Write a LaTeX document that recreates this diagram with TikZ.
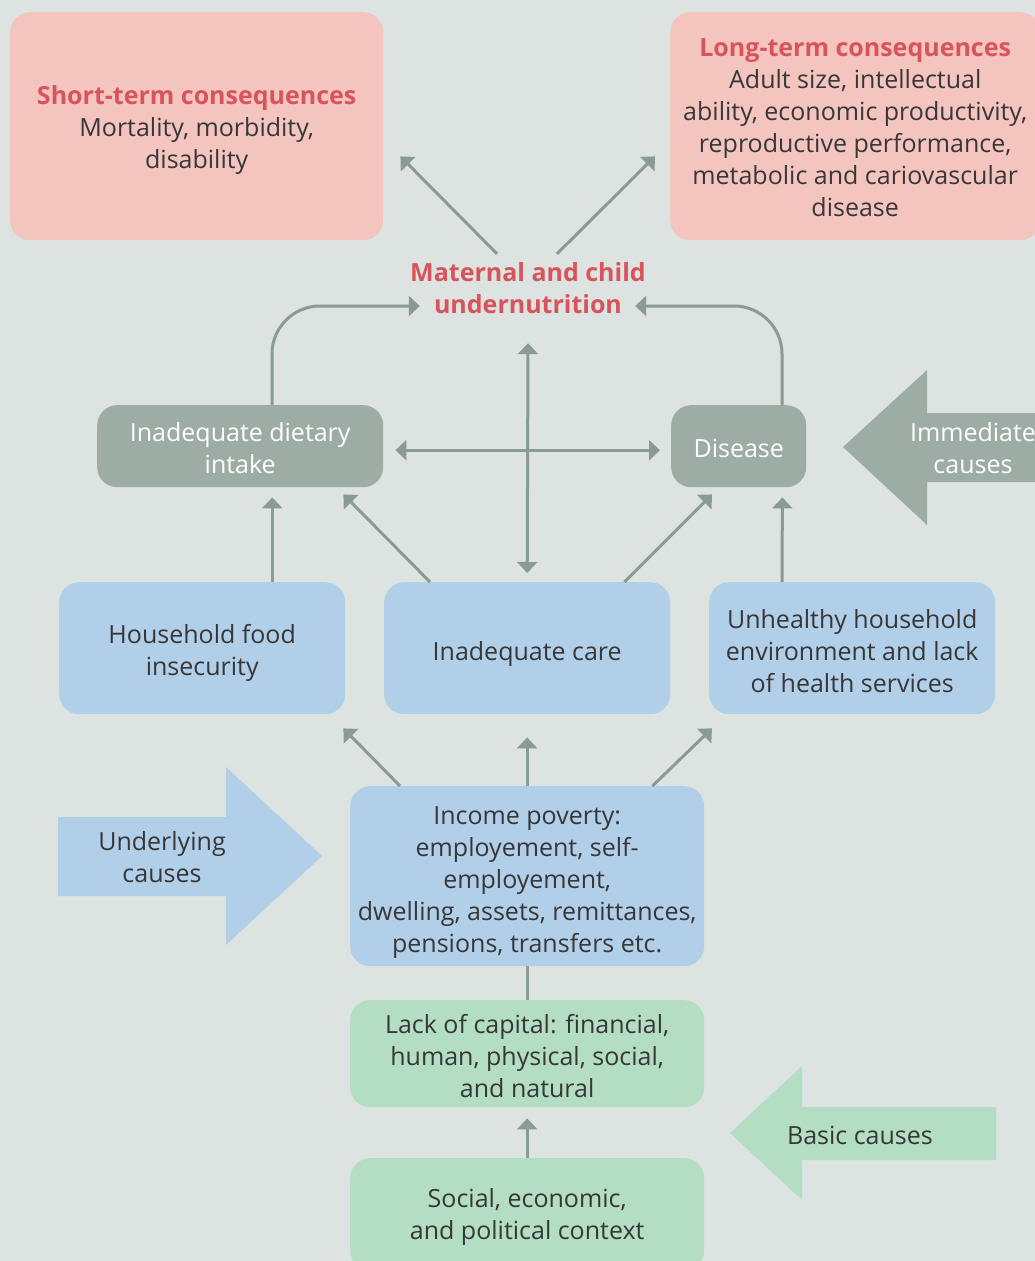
\documentclass[tikz,border=0pt]{standalone}
\usepackage{fontspec}
\setmainfont{Open Sans}
\usetikzlibrary{arrows.meta,calc}

\begin{document}
\begin{tikzpicture}[x=1pt,y=-1pt,
    every node/.style={font=\fontsize{25}{32}\selectfont, text=textcolor, align=center},
    box/.style={rounded corners=20pt, inner sep=0pt, anchor=north west},
    pinkbox/.style={box, fill=pinkcolor},
    greybox/.style={box, fill=greycolor},
    bluebox/.style={box, fill=bluecolor},
    greenbox/.style={box, fill=greencolor},
    title/.style={font=\fontsize{25}{32}\selectfont\bfseries, text=redcolor},
    arr/.style={draw=arrowcolor, line width=3pt, -{Triangle[length=11pt,width=20pt]}},
    dblarr/.style={arr, {Triangle[length=11pt,width=20pt]}-{Triangle[length=11pt,width=20pt]}},
    link/.style={draw=arrowcolor, line width=3pt}]

    % Define the colors
    \definecolor{bgcolor}{RGB}{220, 227, 224}
    \definecolor{pinkcolor}{RGB}{244, 197, 191}
    \definecolor{redcolor}{RGB}{217, 83, 92}
    \definecolor{greycolor}{RGB}{157, 172, 164}
    \definecolor{bluecolor}{RGB}{178, 207, 234}
    \definecolor{greencolor}{RGB}{179, 222, 196}
    \definecolor{arrowcolor}{RGB}{138, 155, 145}
    \definecolor{textcolor}{RGB}{55, 55, 55}

    % Background
    \useasboundingbox (0,0) rectangle (1035,1261);
    \clip (0,0) rectangle (1035,1261);
    \fill[bgcolor] (0,0) rectangle (1035,1261);

    % Draw the consequences
    \node[pinkbox, minimum width=373, minimum height=228] (short) at (10,12) {};
    \node (shorttext) at ($(short)+(0,4)$)
        {{\bfseries\color{redcolor}Short-term consequences}\\Mortality, morbidity,\\disability};
    \node[pinkbox, minimum width=370, minimum height=228] (long) at (670,12) {};
    \node (longtext) at ($(long)+(0,1)$)
        {{\bfseries\color{redcolor}Long-term consequences}\\Adult size, intellectual\\ability, economic productivity,\\reproductive performance,\\metabolic and cariovascular\\disease};

    % Draw the outcome
    \node[title, inner sep=0pt, minimum width=240, minimum height=68] (mat) at (528,288)
        {Maternal and child\\undernutrition};

    % Draw the immediate causes
    \node[greybox, minimum width=286, minimum height=82] (diet) at (97,405) {};
    \node[text=white] (diettext) at ($(diet)+(0,2)$) {Inadequate dietary\\intake};
    \node[greybox, minimum width=135, minimum height=82] (dis) at (671,405) {};
    \node[text=white] (distext) at ($(dis)+(0,2)$) {Disease};
    \fill[greycolor] (843,447) -- (927,370) -- (927,413) -- (1040,413) -- (1040,482) -- (927,482) -- (927,525) -- cycle;
    \node[text=white] (immediate) at (973,448) {Immediate\\causes};

    % Draw the underlying causes
    \node[bluebox, minimum width=286, minimum height=132] (food) at (59,582) {};
    \node (foodtext) at ($(food)+(0,5)$) {Household food\\insecurity};
    \node[bluebox, minimum width=286, minimum height=132] (care) at (384,582) {};
    \node (caretext) at ($(care)+(0,6)$) {Inadequate care};
    \node[bluebox, minimum width=286, minimum height=132] (unh) at (709,582) {};
    \node (unhtext) at ($(unh)+(0,3)$) {Unhealthy household\\environment and lack\\of health services};
    \node[bluebox, minimum width=354, minimum height=180] (inc) at (350,786) {};
    \node (inctext) at ($(inc)+(0,6)$)
        {Income poverty:\\employement, self-\\employement,\\dwelling, assets, remittances,\\pensions, transfers etc.};
    \fill[bluecolor] (58,817) -- (226,817) -- (226,767) -- (322,856) -- (226,945) -- (226,896) -- (58,896) -- cycle;
    \node (underlying) at (162,857) {Underlying\\causes};

    % Draw the basic causes
    \node[greenbox, minimum width=354, minimum height=107] (lack) at (350,1000) {};
    \node (lacktext) at ($(lack)+(0,2)$) {Lack of capital: financial,\\human, physical, social,\\and natural};
    \node[greenbox, minimum width=354, minimum height=112] (social) at (350,1158) {};
    \node (socialtext) at ($(social)+(0,3)$) {Social, economic,\\and political context};
    \fill[greencolor] (730,1133) -- (802,1066) -- (802,1107) -- (996,1107) -- (996,1160) -- (802,1160) -- (802,1200) -- cycle;
    \node (basic) at (860,1135) {Basic causes};

    % Arrows to the consequences
    \draw[arr] ($(mat.north)+(-31,0)$) -- ($(short.south east)+(17,-84)$);
    \draw[arr] ($(mat.north)+(29,0)$) -- ($(long.south west)+(-15,-84)$);

    % Arrows to the outcome
    \draw[arr, rounded corners=48pt] ($(diet.north west)+(175,0)$) |- ($(mat.west)+(12,18)$);
    \draw[arr, rounded corners=48pt] ($(dis.north west)+(111,0)$) |- ($(mat.east)+(-13,18)$);
    \draw[dblarr] ($(mat.south)+(0,21)$) -- ($(care.north)+(0,-9)$);
    \draw[dblarr] ($(diet.east)+(12,4)$) -- ($(dis.west)+(-11,4)$);

    % Arrows to the immediate causes
    \draw[arr] ($(food.north)+(70,0)$) -- ($(diet.south)+(32,10)$);
    \draw[arr] ($(care.north west)+(46,0)$) -- ($(diet.south east)+(-40,7)$);
    \draw[arr] ($(care.north east)+(-46,0)$) -- ($(dis.south west)+(41,7)$);
    \draw[arr] ($(unh.north west)+(73,0)$) -- ($(dis.south east)+(-24,10)$);

    % Arrows to the underlying causes
    \draw[arr] ($(inc.north west)+(50,0)$) -- ($(food.south east)+(-2,14)$);
    \draw[arr] (inc.north) -- ($(care.south)+(0,23)$);
    \draw[arr] ($(inc.north east)+(-52,0)$) -- ($(unh.south west)+(3,14)$);
    \draw[link] (inc.south) -- (lack.north);
    \draw[arr] (social.north) -- ($(lack.south)+(0,11)$);

\end{tikzpicture}
\end{document}
